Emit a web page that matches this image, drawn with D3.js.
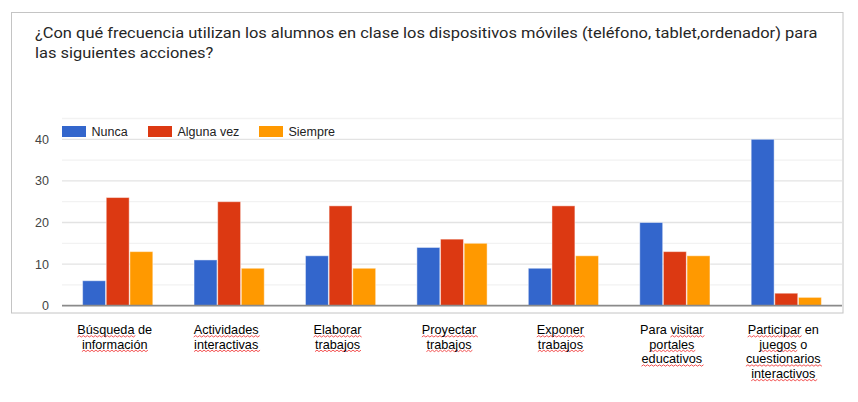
<!DOCTYPE html>
<html>
<head>
<meta charset="utf-8">
<script src="https://cdn.jsdelivr.net/npm/d3@7"></script>
<style>
  body { margin: 0; background: #fff; }
  svg { display: block; }
</style>
</head>
<body>
<div id="chart"></div>
<script>
const titleLines = [
  "¿Con qué frecuencia utilizan los alumnos en clase los dispositivos móviles (teléfono, tablet,ordenador) para",
  "las siguientes acciones?"
];
const categories = [
  "Búsqueda de información",
  "Actividades interactivas",
  "Elaborar trabajos",
  "Proyectar trabajos",
  "Exponer trabajos",
  "Para visitar portales educativos",
  "Participar en juegos o cuestionarios interactivos"
];
const categoryLines = [
  ["Búsqueda de", "información"],
  ["Actividades", "interactivas"],
  ["Elaborar", "trabajos"],
  ["Proyectar", "trabajos"],
  ["Exponer", "trabajos"],
  ["Para visitar", "portales", "educativos"],
  ["Participar en", "juegos o", "cuestionarios", "interactivos"]
];
const seriesNames = ["Nunca", "Alguna vez", "Siempre"];
const nunca     = [6, 11, 12, 14, 9, 20, 40];
const algunaVez = [26, 25, 24, 16, 24, 13, 3];
const siempre   = [13, 9, 9, 15, 12, 12, 2];
const yTicks = [0, 10, 20, 30, 40];
const yMinorTicks = [5, 15, 25, 35, 45];

const colors = ["#3366cc", "#dc3912", "#ff9900"];
const seriesValues = [nunca, algunaVez, siempre];

const width = 858, height = 402;
const plot = {left: 62, right: 842, top: 118.5, bottom: 305.7};

const svg = d3.select("#chart")
  .append("svg")
  .attr("width", width)
  .attr("height", height);

// frame of the chart screenshot
svg.append("rect")
  .attr("x", 11.5).attr("y", 12.5)
  .attr("width", 831.5).attr("height", 300.5)
  .attr("fill", "#fff")
  .attr("stroke", "#c4c4c4");

// title
const title = svg.append("g");
titleLines.forEach((t, i) => {
  title.append("text")
    .attr("x", 0).attr("y", i * 20)
    .attr("font-family", "Roboto, sans-serif")
    .attr("font-size", 14)
    .attr("fill", "#262626")
    .text(t);
});
const w0 = title.select("text").node().getComputedTextLength();
title.attr("transform", `translate(35,38) scale(${783 / w0},1)`);

const x0 = d3.scaleBand()
  .domain(categories)
  .range([plot.left, plot.right])
  .paddingInner(0.37)
  .paddingOuter(0.185);

const x1 = d3.scaleBand()
  .domain(seriesNames)
  .range([0, x0.bandwidth()])
  .paddingInner(0.03);

const y = d3.scaleLinear()
  .domain([0, 45])
  .range([plot.bottom, plot.top]);

// gridlines
svg.append("g")
  .selectAll("line")
  .data(yMinorTicks)
  .join("line")
  .attr("x1", plot.left).attr("x2", plot.right)
  .attr("y1", d => y(d)).attr("y2", d => y(d))
  .attr("stroke", "#f2f2f2")
  .attr("stroke-width", 1.3);

svg.append("g")
  .selectAll("line")
  .data(yTicks.filter(d => d > 0))
  .join("line")
  .attr("x1", plot.left).attr("x2", plot.right)
  .attr("y1", d => y(d)).attr("y2", d => y(d))
  .attr("stroke", "#e3e3e3")
  .attr("stroke-width", 1.3);

// y axis labels
const yAxis = svg.append("g")
  .attr("transform", `translate(49,0)`)
  .call(d3.axisLeft(y).tickValues(yTicks).tickSize(0).tickPadding(0));
yAxis.select(".domain").remove();
yAxis.selectAll("text")
  .attr("font-family", "Arial, 'Liberation Sans', sans-serif")
  .attr("font-size", 12.5)
  .attr("fill", "#444");

// bars
const groups = svg.append("g")
  .selectAll("g")
  .data(categories)
  .join("g")
  .attr("transform", d => `translate(${x0(d)},0)`);

groups.selectAll("rect")
  .data((d, i) => seriesNames.map((s, j) => ({series: s, j: j, value: seriesValues[j][i]})))
  .join("rect")
  .attr("x", d => x1(d.series))
  .attr("width", x1.bandwidth())
  .attr("y", d => y(d.value))
  .attr("height", d => y(0) - y(d.value))
  .attr("fill", d => colors[d.j])
  .attr("stroke", "rgba(255,255,255,0.45)")
  .attr("stroke-width", 1);

// baseline
svg.append("line")
  .attr("x1", plot.left).attr("x2", plot.right)
  .attr("y1", y(0)).attr("y2", y(0))
  .attr("stroke", "#8a8a8a")
  .attr("stroke-width", 1.8);

// legend
const legendX = [62, 148, 259];
const legend = svg.append("g")
  .selectAll("g")
  .data(seriesNames)
  .join("g")
  .attr("transform", (d, i) => `translate(${legendX[i]},126)`);
legend.append("rect")
  .attr("width", 24).attr("height", 11)
  .attr("fill", (d, i) => colors[i]);
legend.append("text")
  .attr("x", 29.5).attr("y", 10)
  .attr("font-family", "Arial, 'Liberation Sans', sans-serif")
  .attr("font-size", 12.5)
  .attr("fill", "#222")
  .text(d => d);

// category labels below the frame (separate text boxes)
const wave = (a, b, yy) => {
  let d = `M${a},${yy}`;
  let up = true;
  for (let xx = a; xx < b; xx += 2) {
    d += ` l2,${up ? -1.4 : 1.4}`;
    up = !up;
  }
  return d;
};

categories.forEach((c, i) => {
  const cx = x0(c) + x0.bandwidth() / 2 - 3;
  categoryLines[i].forEach((line, k) => {
    const yy = 334 + k * 14.6;
    const g = svg.append("g").attr("transform", `translate(${cx},${yy})`);
    const t = g.append("text")
      .attr("text-anchor", "middle")
      .attr("font-family", "Arial, 'Liberation Sans', sans-serif")
      .attr("font-size", 12.7)
      .attr("fill", "#000")
      .text(line);
    const node = t.node();
    let pos = 0;
    line.split(" ").forEach(word => {
      if (word.length >= 5) {
        const a = node.getStartPositionOfChar(pos).x;
        const b = node.getEndPositionOfChar(pos + word.length - 1).x;
        g.insert("path", "text")
          .attr("d", wave(a, b, 3))
          .attr("fill", "none")
          .attr("stroke", "#f04040")
          .attr("stroke-width", 0.9);
      }
      pos += word.length + 1;
    });
  });
});
</script>
</body>
</html>
